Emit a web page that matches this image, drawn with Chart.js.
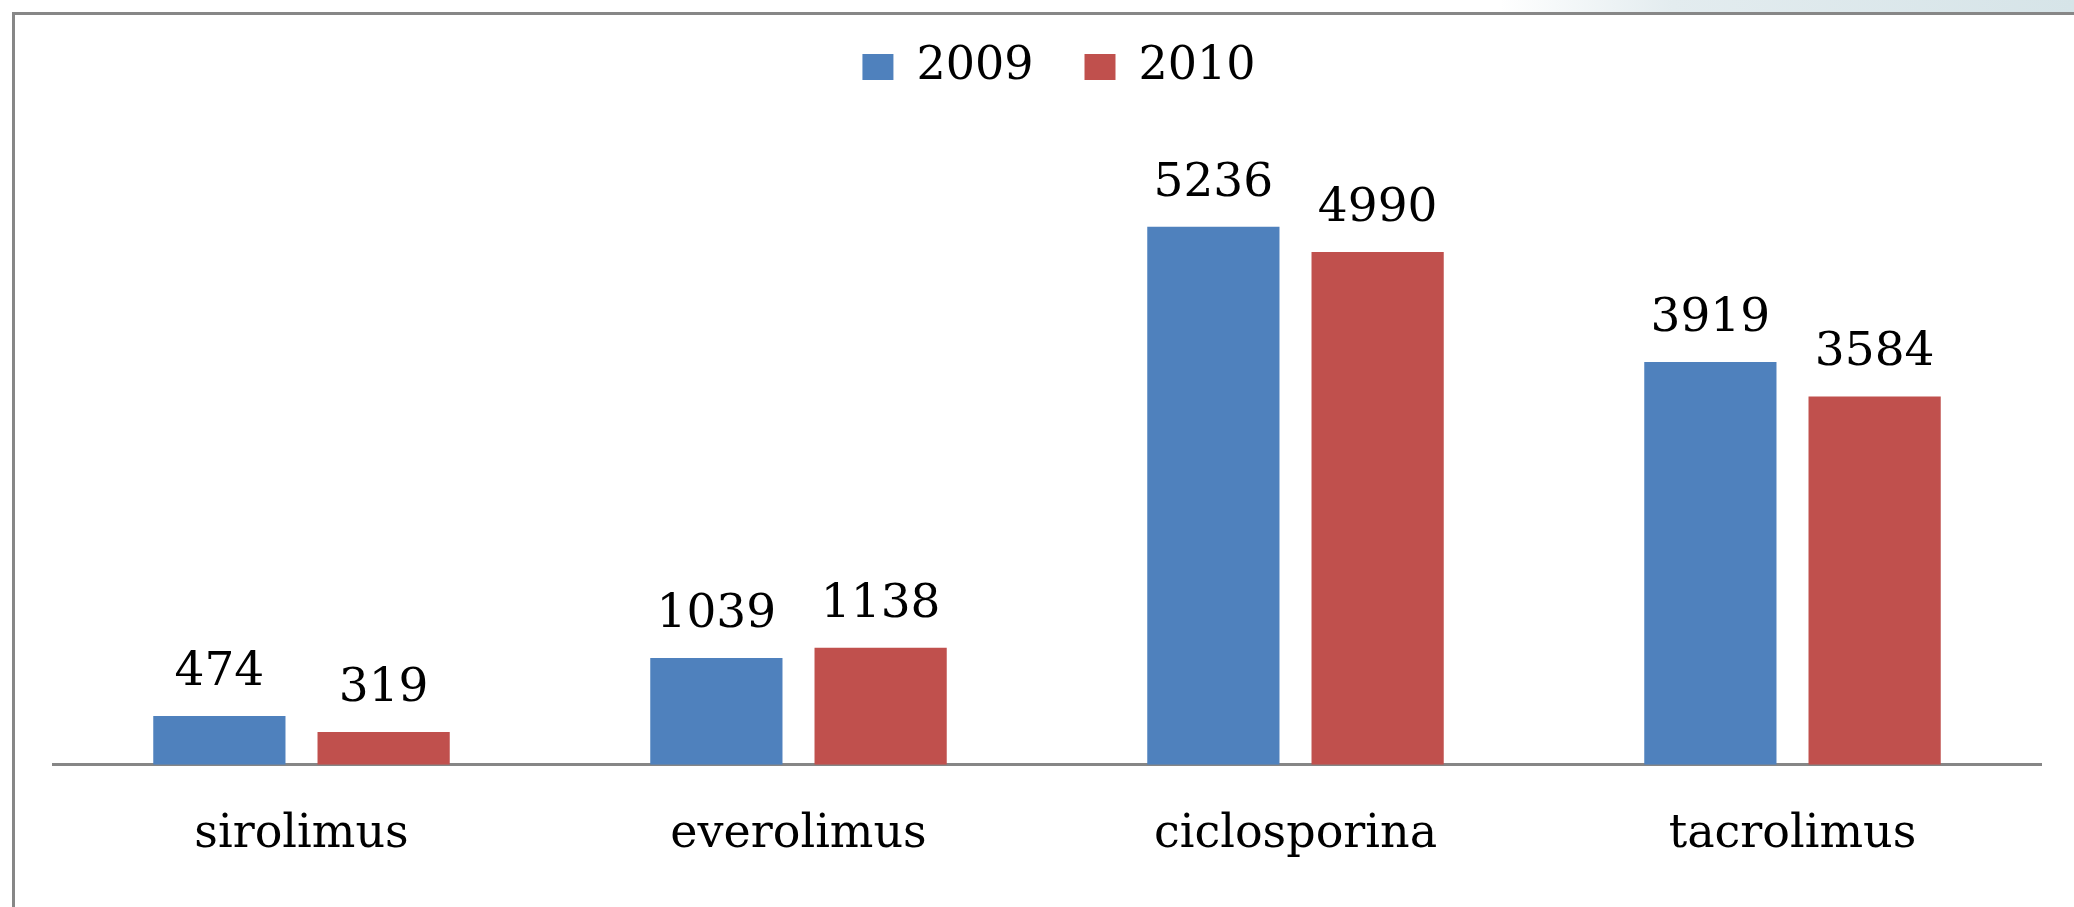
<!DOCTYPE html>
<html>
<head>
<meta charset="utf-8">
<script src="https://cdn.jsdelivr.net/npm/chart.js@4.4.0/dist/chart.umd.min.js"></script>
<style>
  html, body { margin: 0; padding: 0; background: #ffffff; }
  body { width: 2074px; height: 907px; position: relative; overflow: hidden; }
  #bgstrip { position: absolute; left: 1500px; top: 0; width: 574px; height: 12px;
    background: linear-gradient(90deg, rgba(255,255,255,1) 0%, #e3ecef 30%, #d6e4e8 100%); }
  #frame { position: absolute; left: 12px; top: 12px; width: 2080px; height: 920px;
    border-top: 3px solid #878787; border-left: 3px solid #878787; box-sizing: border-box; }
  #c { position: absolute; left: 0; top: 0; }
</style>
</head>
<body>
<div id="bgstrip"></div>
<div id="frame"></div>
<canvas id="c" width="2074" height="907"></canvas>
<script>
const categories = ["sirolimus", "everolimus", "ciclosporina", "tacrolimus"];
const seriesNames = ["2009", "2010"];
const values2009 = [474, 1039, 5236, 3919];
const values2010 = [319, 1138, 4990, 3584];
const colors = ["#4F81BD", "#C0504D"];

const FONT = "'DejaVu Serif', 'Liberation Serif', serif";

const valueLabels = {
  id: 'valueLabels',
  afterDatasetsDraw(chart) {
    const ctx = chart.ctx;
    ctx.save();
    ctx.font = "47px " + FONT;
    ctx.fillStyle = "#000000";
    ctx.textAlign = "center";
    ctx.textBaseline = "alphabetic";
    chart.data.datasets.forEach((ds, i) => {
      const meta = chart.getDatasetMeta(i);
      meta.data.forEach((bar, j) => {
        ctx.fillText(String(ds.data[j]), bar.x, bar.y - 31);
      });
    });
    ctx.restore();
  }
};

const legendShift = {
  id: 'legendShift',
  afterLayout(chart) {
    const lg = chart.legend;
    if (!lg) return;
    lg.left += 12; lg.right += 12;
    lg.top -= 7; lg.bottom -= 7;
  }
};

new Chart(document.getElementById('c'), {
  type: 'bar',
  data: {
    labels: categories,
    datasets: [
      { label: seriesNames[0], data: values2009, backgroundColor: colors[0], borderWidth: 0,
        categoryPercentage: 0.661, barPercentage: 0.805 },
      { label: seriesNames[1], data: values2010, backgroundColor: colors[1], borderWidth: 0,
        categoryPercentage: 0.661, barPercentage: 0.805 }
    ]
  },
  options: {
    responsive: false,
    animation: false,
    devicePixelRatio: 1,
    layout: { padding: { left: 53, right: 33, top: 0, bottom: 1 } },
    plugins: {
      legend: {
        display: true,
        position: 'top',
        align: 'center',
        labels: {
          boxWidth: 31,
          boxHeight: 26,
          padding: 51,
          color: '#000000',
          font: { family: FONT, size: 46 }
        }
      },
      tooltip: { enabled: false },
      title: { display: false }
    },
    scales: {
      x: {
        grid: { display: false, drawTicks: false },
        border: { display: true, color: '#868686', width: 3 },
        ticks: { color: '#000000', font: { family: FONT, size: 46 }, padding: 43 }
      },
      y: {
        display: false,
        min: 0,
        max: 6400
      }
    }
  },
  plugins: [valueLabels, legendShift]
});
</script>
</body>
</html>
